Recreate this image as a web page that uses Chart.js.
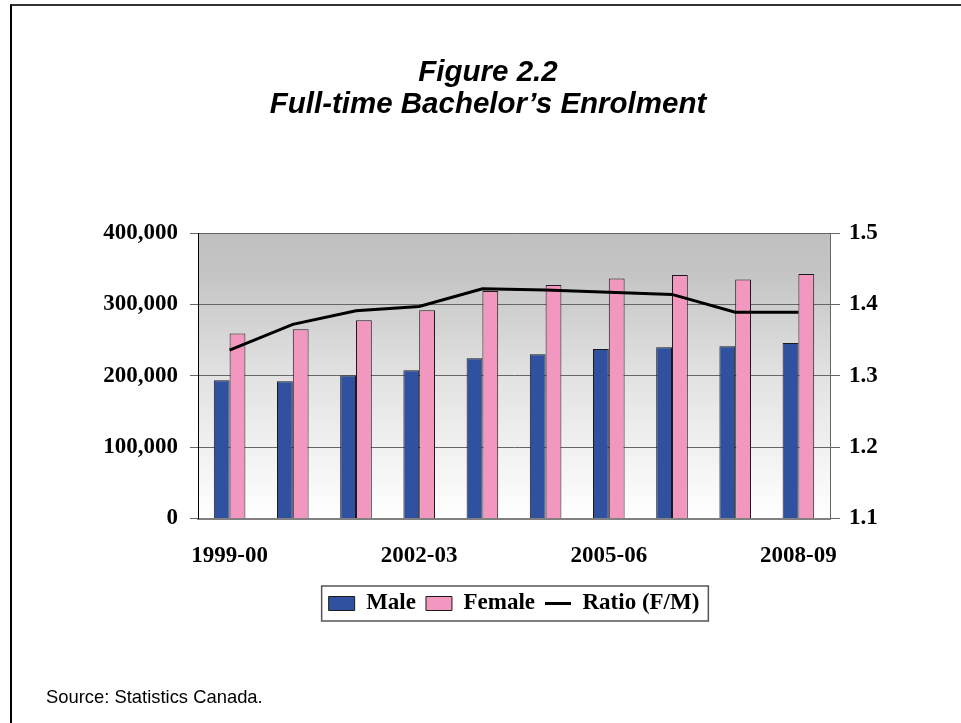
<!DOCTYPE html>
<html>
<head>
<meta charset="utf-8">
<script src="https://cdn.jsdelivr.net/npm/chart.js@4"></script>
<style>
  body { margin: 0; background: #fff; }
  #page { position: relative; width: 961px; height: 723px; overflow: hidden; }
  #frame { position: absolute; left: 10px; top: 4px; width: 1000px; height: 800px;
           border-left: 2px solid #000; border-top: 2px solid #333; }
  #chartBox { position: absolute; left: 0; top: 0; width: 961px; height: 723px; }
  #source { position: absolute; left: 46px; top: 688px; font: 18.4px "Liberation Sans", Arial, sans-serif;
            line-height: 18.4px; color: #000; }
</style>
</head>
<body>
<div id="page">
  <div id="frame"></div>
  <div id="chartBox"><canvas id="enrolChart"></canvas></div>
  <div id="source">Source: Statistics Canada.</div>
</div>
<script>
// Full-time bachelor's enrolment by sex, with female/male ratio
const years = ['1999-00', '2000-01', '2001-02', '2002-03', '2003-04',
               '2004-05', '2005-06', '2006-07', '2007-08', '2008-09'];
const maleEnrol = [193700, 192300, 200300, 207700, 224600, 230200, 237600, 240000, 241400, 246000];
const femaleEnrol = [259200, 265300, 277900, 291900, 318600, 327000, 336400, 341000, 335000, 342500];
const ratioFM = [1.336, 1.372, 1.391, 1.397, 1.422, 1.420, 1.417, 1.414, 1.389, 1.389];
const shownYears = ['1999-00', '2002-03', '2005-06', '2008-09'];

const serifBold = { family: '"Liberation Serif", "Times New Roman", serif', size: 23, weight: 'bold' };

// Grey-to-white fill behind the plot area
const plotBackground = {
    id: 'plotBackground',
    beforeDraw(chart) {
        const { ctx, chartArea: a } = chart;
        const g = ctx.createLinearGradient(0, a.top, 0, a.bottom);
        g.addColorStop(0, '#c0c0c0');
        g.addColorStop(0.15, '#c5c5c5');
        g.addColorStop(0.5, '#e2e2e2');
        g.addColorStop(1, '#ffffff');
        ctx.save();
        ctx.fillStyle = g;
        ctx.fillRect(a.left, a.top, a.right - a.left, a.bottom - a.top);
        ctx.restore();
    }
};

// Frame around the legend items
const legendFrame = {
    id: 'legendFrame',
    afterDraw(chart) {
        const boxes = chart.legend.legendHitBoxes;
        if (!boxes || !boxes.length) return;
        const left = Math.min(...boxes.map(b => b.left)) - 7;
        const right = Math.max(...boxes.map(b => b.left + b.width)) + 9;
        const top = Math.min(...boxes.map(b => b.top)) - 6;
        const bottom = Math.max(...boxes.map(b => b.top + b.height)) + 6;
        const ctx = chart.ctx;
        ctx.save();
        ctx.strokeStyle = '#555';
        ctx.lineWidth = 1.5;
        ctx.strokeRect(left, top, right - left, bottom - top);
        ctx.restore();
    }
};

const ctx = document.getElementById('enrolChart').getContext('2d');
const chart = new Chart(ctx, {
    type: 'bar',
    data: {
        labels: years,
        datasets: [
            {
                label: 'Male',
                data: maleEnrol,
                backgroundColor: '#3050a0',
                borderColor: '#1a1a1a',
                borderWidth: 1,
                categoryPercentage: 0.5,
                barPercentage: 1.0,
                yAxisID: 'y',
                order: 1
            },
            {
                label: 'Female',
                data: femaleEnrol,
                backgroundColor: '#f298c0',
                borderColor: '#1a1a1a',
                borderWidth: 1,
                categoryPercentage: 0.5,
                barPercentage: 1.0,
                yAxisID: 'y',
                order: 1
            },
            {
                type: 'line',
                label: 'Ratio (F/M)',
                data: ratioFM,
                borderColor: '#000',
                backgroundColor: '#000',
                borderWidth: 3,
                pointRadius: 0,
                tension: 0,
                yAxisID: 'y1',
                order: 0
            }
        ]
    },
    options: {
        responsive: true,
        maintainAspectRatio: false,
        animation: false,
        layout: { padding: { left: 15, right: 0, top: 0, bottom: 98 } },
        scales: {
            x: {
                grid: { display: false, drawTicks: false },
                border: { display: true, color: '#808080', width: 2 },
                ticks: {
                    autoSkip: false,
                    maxRotation: 0,
                    padding: 24,
                    color: '#000',
                    font: serifBold,
                    callback: function(value, index) {
                        const lbl = years[index];
                        return shownYears.includes(lbl) ? lbl : '';
                    }
                },
                afterFit: s => { s.height = 63.5; }
            },
            y: {
                position: 'left',
                min: 0,
                max: 400000,
                grid: { color: '#666', lineWidth: 1, tickLength: 8 },
                border: { color: '#000', width: 1 },
                ticks: {
                    stepSize: 100000,
                    padding: 12,
                    color: '#000',
                    font: serifBold,
                    callback: v => v.toLocaleString('en-US')
                },
                afterFit: s => { s.width = 183; }
            },
            y1: {
                position: 'right',
                min: 1.1,
                max: 1.5,
                grid: { drawOnChartArea: false, color: '#666', tickLength: 10 },
                border: { color: '#666', width: 1 },
                ticks: {
                    stepSize: 0.1,
                    padding: 9,
                    color: '#000',
                    font: serifBold,
                    callback: v => v.toFixed(1)
                },
                afterFit: s => { s.width = 131; }
            }
        },
        plugins: {
            title: {
                display: true,
                text: ['Figure 2.2', 'Full-time Bachelor\u2019s Enrolment'],
                color: '#000',
                font: { family: '"Liberation Sans", Arial, sans-serif', size: 29.5, weight: 'bold', style: 'italic', lineHeight: 1.085 },
                padding: { top: 57, bottom: 112 }
            },
            legend: {
                position: 'bottom',
                fullSize: false,
                labels: {
                    color: '#000',
                    font: serifBold,
                    usePointStyle: true,
                    pointStyleWidth: 26,
                    boxHeight: 14,
                    padding: 10,
                    sort: (a, b) => a.datasetIndex - b.datasetIndex,
                    generateLabels: function(chart) {
                        const items = Chart.defaults.plugins.legend.labels.generateLabels(chart);
                        items.forEach(it => {
                            it.pointStyle = it.datasetIndex === 2 ? 'line' : 'rect';
                        });
                        return items;
                    }
                }
            },
            tooltip: { enabled: false }
        }
    },
    plugins: [plotBackground, legendFrame]
});
</script>
</body>
</html>
